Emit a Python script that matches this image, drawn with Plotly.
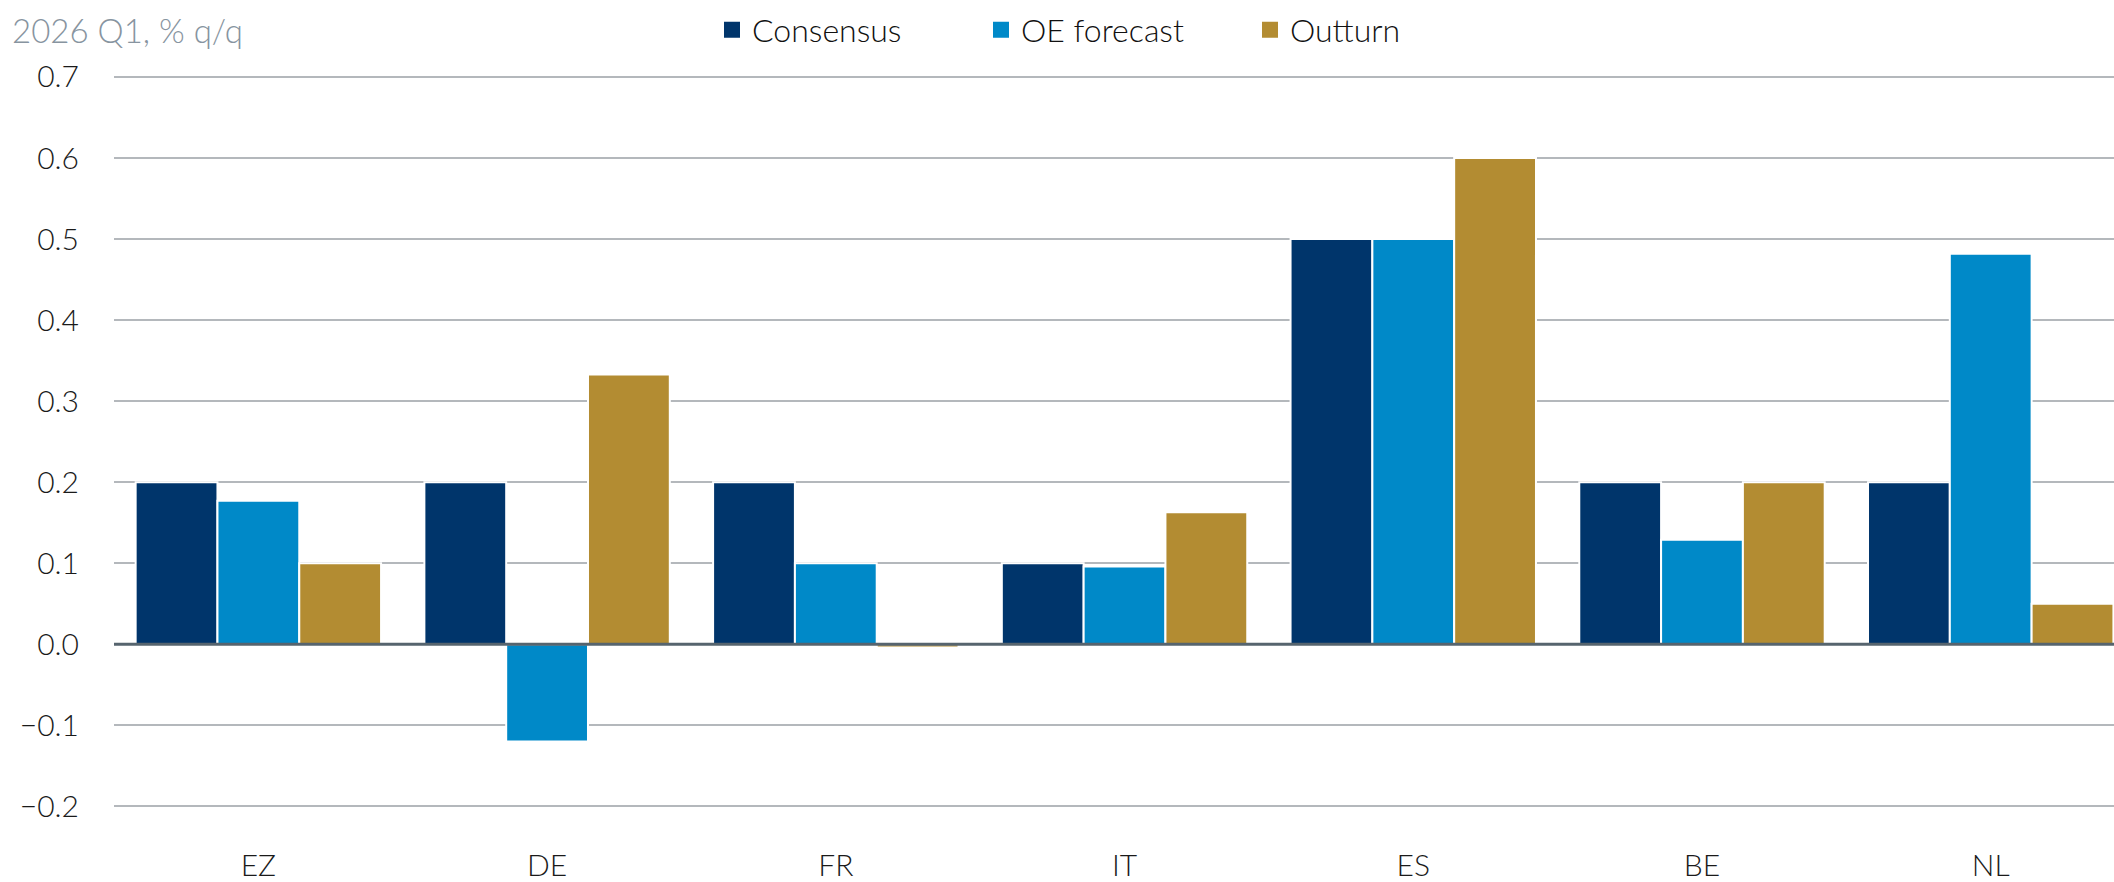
import plotly.graph_objects as go

# 2026 Q1 GDP, % q/q
CATEGORIES = ["EZ", "DE", "FR", "IT", "ES", "BE", "NL"]
CONSENSUS = [0.2, 0.2, 0.2, 0.1, 0.5, 0.2, 0.2]
OE_FORECAST = [0.177, -0.12, 0.1, 0.096, 0.5, 0.129, 0.482]
OUTTURN = [0.1, 0.333, -0.004, 0.163, 0.6, 0.2, 0.05]
SERIES_NAMES = ["Consensus", "OE forecast", "Outturn"]
COLORS = ["#00356b", "#0089c8", "#b38c32"]

FONT = "Lato, Inter, sans-serif"

fig = go.Figure()
for name, vals, col in zip(SERIES_NAMES, [CONSENSUS, OE_FORECAST, OUTTURN], COLORS):
    fig.add_trace(go.Bar(x=CATEGORIES, y=vals, name=name, showlegend=False,
                         marker=dict(color=col, line=dict(color="white", width=2))))
# legend swatches (bigger squares than the bar default)
for name, col in zip(SERIES_NAMES, COLORS):
    fig.add_trace(go.Scatter(x=[None], y=[None], mode="markers", name=name,
                             marker=dict(symbol="square", size=16, color=col)))

# zero line sits on top of the bars
fig.add_shape(type="line", xref="paper", x0=0, x1=1, yref="y", y0=0, y1=0,
              line=dict(color="#56646e", width=3), layer="above")

fig.update_layout(
    width=2114, height=882,
    margin=dict(l=114, r=0, t=69, b=72),
    plot_bgcolor="white", paper_bgcolor="white",
    font=dict(family=FONT, size=30, color="#1a1a1a", weight=300),
    barmode="group", bargap=0.15, bargroupgap=0,
    title=dict(text="2026 Q1, % q/q", x=12 / 2114, xref="container", xanchor="left",
               y=1 - 31 / 882, yref="container", yanchor="middle",
               font=dict(family=FONT, size=33, color="#8794a0", weight=300)),
    legend=dict(orientation="h", x=712 / 2114, xref="container", xanchor="left",
                y=1 - 30 / 882, yref="container", yanchor="middle",
                entrywidth=224, entrywidthmode="pixels",
                font=dict(family=FONT, size=32, color="#111111", weight=300)),
    showlegend=True,
)
fig.update_yaxes(range=[-0.202, 0.702], dtick=0.1, tick0=0, tickformat=".1f",
                 showgrid=True, gridcolor="#b4b8bc", gridwidth=2,
                 zeroline=False, showline=False, ticklabelstandoff=34,
                 tickfont=dict(size=30, color="#1a1a1a"))
fig.update_xaxes(range=[-0.5, 6.427], showgrid=False, showline=False,
                 ticklabelstandoff=37, tickfont=dict(size=30, color="#1a1a1a"))

fig.write_html("out.html", config={"displayModeBar": False},
               post_script="document.body.style.margin='0';")
